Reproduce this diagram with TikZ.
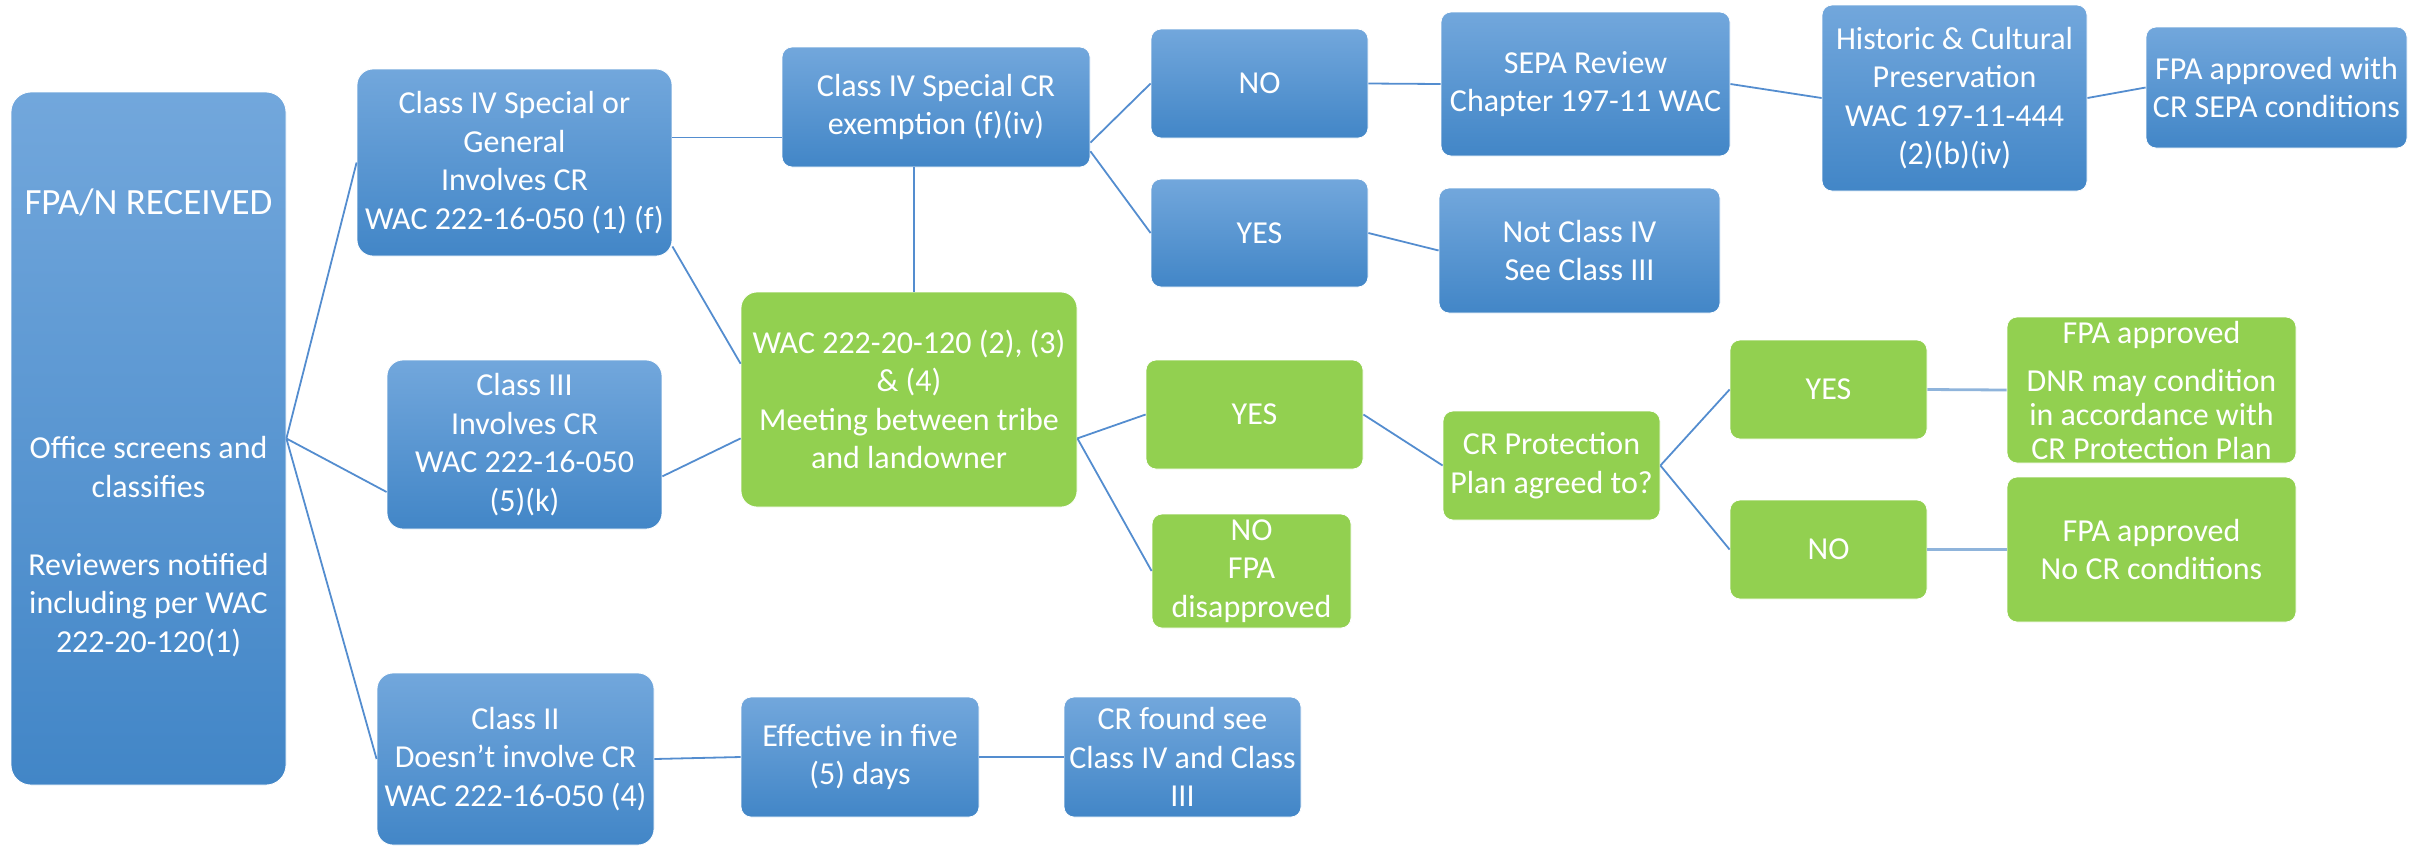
\documentclass[tikz,border=0pt]{standalone}
\usepackage{fontspec}
\setmainfont{Carlito}
\usepackage{tikz}
\usetikzlibrary{positioning, calc}
\definecolor{boxtop}{RGB}{114,167,220}
\definecolor{boxbottom}{RGB}{66,134,199}
\definecolor{boxgreen}{RGB}{146,208,80}
\definecolor{linkblue}{RGB}{84,141,207}
\definecolor{linklight}{RGB}{143,180,219}
\newcommand{\boxfont}{\fontsize{16}{19.2}\selectfont}
\tikzstyle{bluebox} = [rectangle, rounded corners=5pt, inner sep=0pt, align=center, text=white, font=\boxfont, top color=boxtop, bottom color=boxbottom, draw=white, line width=0.4pt]
\tikzstyle{greenbox} = [rectangle, rounded corners=5pt, inner sep=0pt, align=center, text=white, font=\boxfont, fill=boxgreen, draw=white, line width=0.4pt]
\tikzstyle{link} = [draw=linkblue, line width=0.9pt]
\tikzstyle{lightlink} = [draw=linklight, line width=1.4pt]

\begin{document}
\begin{tikzpicture}[x=0.5pt, y=-0.5pt]
\useasboundingbox (0,0) rectangle (2425,848);

\node (received) [bluebox, rounded corners=10pt, minimum width=137.5pt, minimum height=346.5pt, text depth=18pt] at (148.5,438.5) {{\fontsize{18.5}{22}\selectfont FPA/N RECEIVED}\\[103pt]Office screens and\\classifies\\[20pt]Reviewers notified\\including per WAC\\222-20-120(1)};
\node (classfour) [bluebox, rounded corners=8pt, minimum width=157.5pt, minimum height=93.5pt] at (514.5,162.5) {Class IV Special or\\General\\Involves CR\\WAC 222-16-050 (1) (f)};
\node (classthree) [bluebox, rounded corners=8pt, minimum width=137.5pt, minimum height=84.5pt] at (524.5,444.5) {Class III\\Involves CR\\WAC 222-16-050\\(5)(k)};
\node (classtwo) [bluebox, rounded corners=8pt, minimum width=138.5pt, minimum height=86pt] at (515.5,759) {Class II\\Doesn’t involve CR\\WAC 222-16-050 (4)};
\node (exemption) [bluebox, minimum width=154pt, minimum height=60pt] at (936,107) {Class IV Special CR\\exemption (f)(iv)};
\node (meeting) [greenbox, rounded corners=8pt, minimum width=168pt, minimum height=107.5pt] at (909,399.5) {WAC 222-20-120 (2), (3)\\\& (4)\\Meeting between tribe\\and landowner};
\node (exno) [bluebox, minimum width=108.5pt, minimum height=54.5pt] at (1259.5,83.5) {NO};
\node (exyes) [bluebox, minimum width=108.5pt, minimum height=54pt] at (1259.5,233) {YES};
\node (sepa) [bluebox, minimum width=144.5pt, minimum height=72pt] at (1585.5,84) {SEPA Review\\Chapter 197-11 WAC};
\node (notfour) [bluebox, minimum width=140.5pt, minimum height=62.5pt] at (1579.5,250.5) {Not Class IV\\See Class III};
\node (historic) [bluebox, minimum width=132.5pt, minimum height=93pt] at (1954.5,98) {Historic \& Cultural\\Preservation\\WAC 197-11-444\\(2)(b)(iv)};
\node (sepaok) [bluebox, minimum width=130.5pt, minimum height=60.5pt] at (2276.5,87.5) {FPA approved with\\CR SEPA conditions};
\node (meetyes) [greenbox, minimum width=108.5pt, minimum height=54.5pt] at (1254.5,414.5) {YES};
\node (meetno) [greenbox, minimum width=99.5pt, minimum height=57pt] at (1251.5,571) {NO\\FPA\\disapproved};
\node (plan) [greenbox, minimum width=108.5pt, minimum height=54.5pt] at (1551.5,465.5) {CR Protection\\Plan agreed to?};
\node (planyes) [greenbox, minimum width=98.5pt, minimum height=49.5pt] at (1828.5,389.5) {YES};
\node (planno) [greenbox, minimum width=98.5pt, minimum height=49.5pt] at (1828.5,549.5) {NO};
\node (planok) [greenbox, minimum width=144.5pt, minimum height=73pt, font=\fontsize{16}{17}\selectfont] at (2151.5,390) {FPA approved\\[7pt]DNR may condition\\in accordance with\\CR Protection Plan};
\node (nocond) [greenbox, minimum width=144.5pt, minimum height=72.5pt] at (2151.5,549.5) {FPA approved\\No CR conditions};
\node (effective) [bluebox, minimum width=119pt, minimum height=60pt] at (860,757) {Effective in five\\(5) days};
\node (crfound) [bluebox, minimum width=118.5pt, minimum height=60pt] at (1182.5,757) {CR found see\\Class IV and Class\\III};

\draw [link] (received.east) -- (classfour.west);
\draw [link] (received.east) -- (classthree.199);
\draw [link] (received.east) -- (classtwo.west);
\draw [link] (classfour.9) -- (classfour.9 -| exemption.west);
\draw [link] (classfour.332) -- (meeting.168);
\draw [link] (classthree.347) -- (meeting.193);
\draw [link] ([xshift=2.5pt]meeting.north) -- ([xshift=2.5pt]meeting.north |- exemption.south);
\draw [link] (exemption.347) -- (exno.west);
\draw [link] (exemption.344) -- (exyes.west);
\draw [link] (exno.east) -- (sepa.west);
\draw [link] (exyes.east) -- (notfour.west);
\draw [link] (sepa.east) -- (historic.west);
\draw [link] (historic.east) -- (sepaok.west);
\draw [link] (meeting.347) -- (meetyes.west);
\draw [link] (meeting.347) -- (meetno.west);
\draw [link] (meetyes.east) -- (plan.west);
\draw [link] (plan.east) -- (planyes.west);
\draw [link] (plan.east) -- (planno.west);
\draw [lightlink] (planyes.east) -- (planok.west);
\draw [lightlink] (planno.east) -- (nocond.west);
\draw [link] (classtwo.east) -- (effective.west);
\draw [link] (effective.east) -- (crfound.west);

\end{tikzpicture}
\end{document}
